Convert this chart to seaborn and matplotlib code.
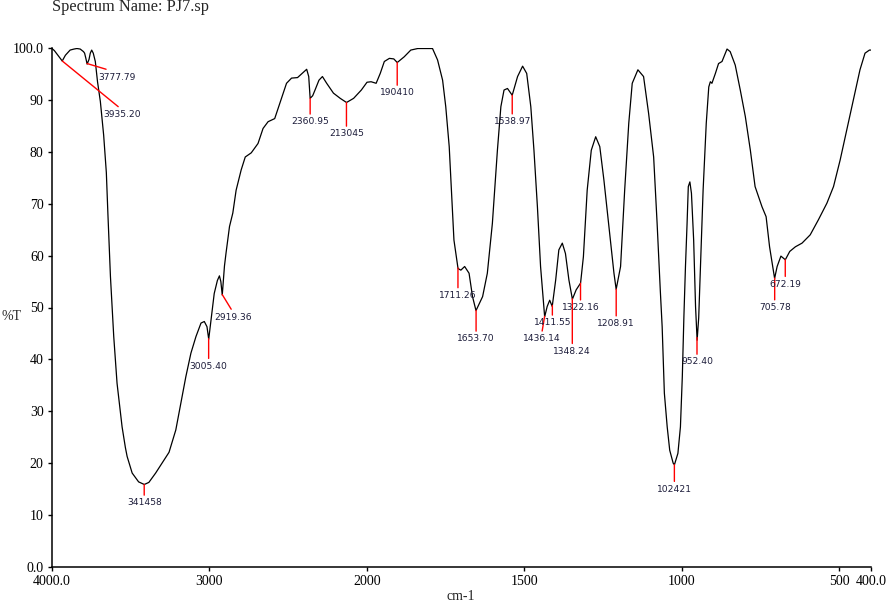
import numpy as np
import pandas as pd
import matplotlib
matplotlib.use("Agg")
import matplotlib.pyplot as plt
import seaborn as sns

# ---------------- data ----------------
wavenumber = [4000, 3985, 3960, 3935, 3915, 3885, 3860, 3842, 3821, 3800, 3793, 3785,
              3777, 3765, 3757, 3748, 3738, 3725, 3711, 3693, 3672, 3655, 3645, 3629,
              3608, 3587, 3555, 3534, 3523, 3491, 3450, 3414, 3385, 3342, 3310, 3257,
              3214, 3182, 3150, 3118, 3086, 3054, 3033, 3016, 3005, 2990, 2970, 2950,
              2937, 2928, 2919, 2905, 2895, 2873, 2852, 2831, 2799, 2773, 2735, 2692,
              2660, 2628, 2586, 2554, 2511, 2479, 2441, 2383, 2370, 2361, 2345, 2330,
              2305, 2283, 2256, 2213, 2170, 2130, 2085, 2036, 2000, 1987, 1971, 1958,
              1945, 1929, 1915, 1904, 1882, 1861, 1839, 1813, 1792, 1776, 1760, 1750,
              1739, 1732, 1724, 1711, 1702, 1690, 1676, 1665, 1654, 1633, 1618, 1602,
              1586, 1575, 1565, 1554, 1539, 1522, 1506, 1493, 1480, 1470, 1459, 1449,
              1436, 1428, 1420, 1412, 1401, 1391, 1380, 1370, 1359, 1348, 1336, 1322,
              1313, 1301, 1288, 1274, 1261, 1248, 1232, 1216, 1209, 1195, 1182, 1169,
              1158, 1140, 1122, 1106, 1090, 1079, 1069, 1063, 1056, 1047, 1039, 1028,
              1024, 1013, 1005, 999, 994, 989, 984, 980, 975, 970, 963, 957,
              952, 947, 942, 933, 923, 915, 910, 905, 894, 884, 873, 857,
              847, 831, 815, 799, 783, 768, 746, 733, 722, 706, 698, 686,
              672, 658, 640, 619, 593, 567, 540, 519, 498, 477, 456, 435,
              419, 405, 400]
transmittance = [99.9, 99.5, 98.5, 97.5, 98.6, 99.6, 99.8, 99.9, 99.8, 99.3, 99.0, 98.0,
                 96.9, 97.8, 99.0, 99.6, 99.0, 97.4, 93.5, 89.7, 83.2, 76.0, 68.0, 56.0,
                 44.4, 35.4, 27.0, 23.0, 21.3, 18.1, 16.4, 15.9, 16.3, 18.1, 19.6, 22.1,
                 26.4, 31.5, 36.7, 41.2, 44.4, 47.0, 47.3, 46.3, 43.9, 47.6, 52.7, 55.2,
                 56.1, 55.0, 52.4, 58.0, 60.5, 65.6, 68.2, 72.6, 76.5, 79.0, 79.8, 81.6,
                 84.5, 85.8, 86.4, 89.3, 93.2, 94.2, 94.3, 95.9, 94.5, 90.3, 90.8, 91.9,
                 93.8, 94.5, 93.2, 91.3, 90.3, 89.5, 90.3, 91.9, 93.4, 93.5, 93.2, 95.1,
                 97.4, 98.0, 97.9, 97.2, 98.3, 99.6, 99.9, 99.9, 99.9, 97.7, 93.8, 88.7,
                 81.0, 72.6, 63.0, 57.5, 57.2, 57.9, 56.6, 52.1, 49.4, 52.1, 56.6, 66.2,
                 80.3, 88.7, 91.9, 92.2, 90.9, 94.5, 96.5, 95.1, 88.7, 80.3, 69.4, 57.9,
                 48.2, 50.2, 51.4, 50.2, 55.3, 61.1, 62.4, 60.4, 55.3, 51.6, 53.4, 54.7,
                 59.8, 72.6, 80.3, 82.9, 81.0, 74.6, 65.6, 56.6, 53.5, 57.9, 72.6, 85.5,
                 93.2, 95.8, 94.5, 87.4, 79.0, 66.2, 53.4, 46.3, 33.5, 27.0, 22.5, 20.0,
                 19.7, 21.9, 27.0, 36.7, 48.2, 57.9, 66.0, 73.3, 74.2, 72.0, 63.0, 50.2,
                 43.7, 48.0, 56.6, 72.6, 85.5, 92.5, 93.5, 93.2, 95.1, 97.0, 97.4, 99.8,
                 99.3, 96.7, 91.9, 86.8, 80.3, 73.3, 69.4, 67.5, 61.7, 55.6, 57.9, 59.9,
                 59.2, 60.8, 61.7, 62.4, 64.0, 66.9, 70.1, 73.3, 78.4, 84.2, 90.0, 95.8,
                 99.0, 99.6, 99.6]

peak_wavenumbers = [3935.20, 3777.79, 3414.58, 3005.40, 2919.36, 2360.95, 2130.45, 1904.10,
                    1711.26, 1653.70, 1538.97, 1436.14, 1411.55, 1348.24, 1322.16, 1208.91,
                    1024.21, 952.40, 705.78, 672.19]
peak_labels = ["3935.20", "3777.79", "341458", "3005.40", "2919.36", "2360.95", "213045",
               "190410", "1711.26", "1653.70", "1538.97", "1436.14", "1411.55", "1348.24",
               "1322.16", "1208.91", "102421", "952.40", "705.78", "672.19"]

x_ticks = [4000, 3000, 2000, 1500, 1000, 500, 400]
x_tick_labels = ["4000.0", "3000", "2000", "1500", "1000", "500", "400.0"]
y_ticks = [0, 10, 20, 30, 40, 50, 60, 70, 80, 90, 100]
y_tick_labels = ["0.0", "10", "20", "30", "40", "50", "60", "70", "80", "90", "100.0"]

# layout: pixel offsets (dx, dy-down) of each label-line end from its peak
label_offsets = [(60, 49), (30, 9), (0, 14), (0, 23), (11, 18), (0, 19), (0, 27), (0, 26),
                 (0, 23), (0, 24), (0, 22), (-3, 18), (0, 13), (0, 48), (0, 20), (0, 30),
                 (0, 20), (0, 20), (0, 25), (0, 20)]

# ---------------- style ----------------
sns.set_style("ticks")
plt.rcParams["font.family"] = ["Liberation Serif", "DejaVu Serif"]

W, H = 886, 602
fig = plt.figure(figsize=(W / 100, H / 100), dpi=100)
ax = fig.add_axes([52 / W, 1 - 567 / H, (871 - 52) / W, (567 - 48) / H])


def fwd(x):
    x = np.asarray(x, dtype=float)
    return np.where(x > 2000, 2000 + (x - 2000) / 2.0, x)


def inv(u):
    u = np.asarray(u, dtype=float)
    return np.where(u > 2000, 2000 + (u - 2000) * 2.0, u)


ax.set_xscale("function", functions=(fwd, inv))

df = pd.DataFrame({"wn": wavenumber, "T": transmittance})
sns.lineplot(data=df, x="wn", y="T", ax=ax, color="black", lw=0.9,
             estimator=None, sort=False)

ax.set_xlim(4000, 400)
ax.set_ylim(0, 100)
ax.set_xticks(x_ticks)
ax.set_xticklabels(x_tick_labels)
ax.set_yticks(y_ticks)
ax.set_yticklabels(y_tick_labels)
ax.xaxis.set_minor_locator(matplotlib.ticker.NullLocator())
ax.set_xlabel("")
ax.set_ylabel("")
ax.tick_params(axis="both", direction="out", length=3, width=1, pad=3,
               labelsize=10, colors="black")
for s in ["top", "right"]:
    ax.spines[s].set_visible(False)
for s in ["left", "bottom"]:
    ax.spines[s].set_linewidth(1.1)
    ax.spines[s].set_color("black")

wn_sorted = np.array(wavenumber)[::-1]
t_sorted = np.array(transmittance)[::-1]
for wn, lab, (dx, dy) in zip(peak_wavenumbers, peak_labels, label_offsets):
    yv = float(np.interp(wn, wn_sorted, t_sorted))
    ax.annotate(lab, xy=(wn, yv), xytext=(dx, -dy), textcoords="offset pixels",
                ha="center", va="top", fontsize=6.6, color="#1c1c3a",
                family=["DejaVu Sans"],
                arrowprops=dict(arrowstyle="-", color="red", lw=1,
                                shrinkA=0, shrinkB=0, relpos=(0.5, 1.0)))

fig.text(52 / W, 1 - 7 / H, "Spectrum Name: PJ7.sp", fontsize=11.8, va="center", ha="left")
fig.text(1 / W, 1 - 317 / H, "%T", fontsize=10, va="center", ha="left")
fig.text(461 / W, 1 - 596 / H, "cm-1", fontsize=10, va="center", ha="center")

fig.savefig("out.png", dpi=100)
